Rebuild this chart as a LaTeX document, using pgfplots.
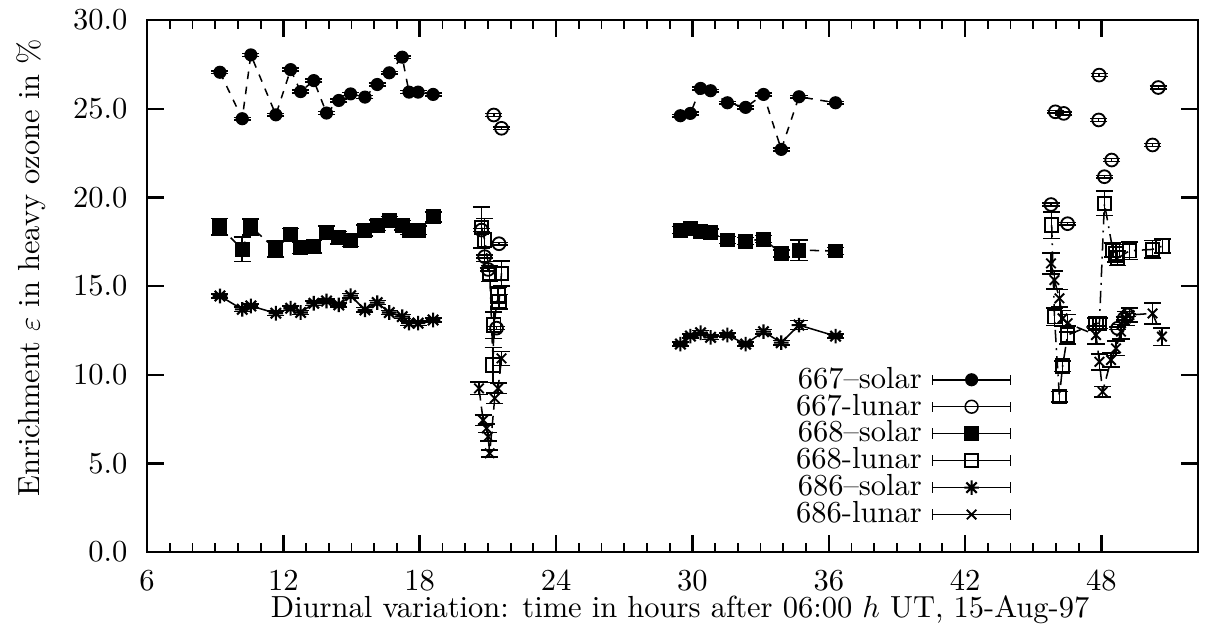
\documentclass[border=0pt]{standalone}
\usepackage{pgfplots}
\pgfplotsset{compat=1.18}
\usepackage{pgfplotstable}

\pgfdeclareplotmark{star8}{%
  \pgfpathmoveto{\pgfqpoint{-\pgfplotmarksize}{0pt}}\pgfpathlineto{\pgfqpoint{\pgfplotmarksize}{0pt}}%
  \pgfpathmoveto{\pgfqpoint{0pt}{-\pgfplotmarksize}}\pgfpathlineto{\pgfqpoint{0pt}{\pgfplotmarksize}}%
  \pgfpathmoveto{\pgfqpoint{-0.707\pgfplotmarksize}{-0.707\pgfplotmarksize}}\pgfpathlineto{\pgfqpoint{0.707\pgfplotmarksize}{0.707\pgfplotmarksize}}%
  \pgfpathmoveto{\pgfqpoint{-0.707\pgfplotmarksize}{0.707\pgfplotmarksize}}\pgfpathlineto{\pgfqpoint{0.707\pgfplotmarksize}{-0.707\pgfplotmarksize}}%
  \pgfusepathqstroke}
\pgfdeclareplotmark{obox}{%
  \pgfpathrectangle{\pgfqpoint{-\pgfplotmarksize}{-\pgfplotmarksize}}{\pgfqpoint{2\pgfplotmarksize}{2\pgfplotmarksize}}%
  \pgfusepathqstroke}

\pgfplotstableread{
x y e
9.21 27.06 0.08
10.19 24.44 0.08
10.57 28.04 0.08
11.67 24.66 0.08
12.32 27.21 0.08
12.76 25.97 0.08
13.34 26.59 0.08
13.90 24.76 0.08
14.44 25.47 0.08
14.96 25.84 0.08
15.59 25.66 0.08
16.13 26.37 0.08
16.66 27.03 0.08
17.23 27.91 0.08
17.53 25.94 0.08
17.93 25.94 0.08
18.59 25.81 0.08
nan nan 0
29.47 24.61 0.08
29.91 24.74 0.08
30.36 26.15 0.08
30.80 26.02 0.08
31.54 25.34 0.08
32.34 25.08 0.08
33.13 25.81 0.08
33.91 22.71 0.08
34.69 25.68 0.08
36.30 25.34 0.08
}\sixsevensolar

\pgfplotstableread{
x y e
20.72 18.16 0.08
20.86 16.66 0.08
21.01 15.94 0.08
21.26 24.65 0.08
21.38 12.63 0.08
21.49 17.39 0.08
21.60 23.90 0.08
45.78 19.60 0.08
45.97 24.83 0.08
46.34 24.74 0.08
46.51 18.52 0.08
47.88 24.37 0.08
47.90 26.90 0.08
48.13 21.17 0.08
48.45 22.11 0.08
48.71 12.62 0.08
49.00 13.18 0.08
49.15 13.37 0.08
50.25 22.96 0.08
50.50 26.20 0.08
}\sixsevenlunar

\pgfplotstableread{
x y e
9.21 18.34 0.47
10.19 17.08 0.70
10.57 18.34 0.45
11.67 17.08 0.45
12.32 17.91 0.35
12.76 17.16 0.32
13.34 17.22 0.36
13.90 18.00 0.38
14.44 17.72 0.36
14.96 17.59 0.36
15.59 18.15 0.31
16.13 18.43 0.30
16.66 18.71 0.22
17.23 18.43 0.26
17.53 18.15 0.25
17.93 18.15 0.25
18.59 18.90 0.28
nan nan 0
29.47 18.16 0.20
29.91 18.26 0.20
30.36 18.07 0.20
30.80 18.01 0.20
31.54 17.60 0.20
32.34 17.54 0.20
33.13 17.65 0.20
33.91 16.85 0.20
34.69 17.03 0.58
36.30 16.98 0.20
}\sixeightsolar

\pgfplotstableread{
x y e
20.72 18.31 1.15
20.86 17.60 1.20
21.08 15.72 0.45
21.23 10.55 1.00
21.26 12.80 0.75
21.45 14.50 0.45
21.49 14.12 0.40
21.60 15.72 0.70
nan nan 0
45.81 18.44 0.75
45.93 13.27 0.50
46.15 8.76 0.30
46.29 10.49 0.30
46.51 12.24 0.50
47.76 12.90 0.30
47.91 12.90 0.30
48.13 19.67 0.70
48.50 17.03 0.40
48.64 16.85 0.50
48.71 16.57 0.40
49.23 16.99 0.50
50.25 17.07 0.50
50.69 17.26 0.40
}\sixeightlunar

\pgfplotstableread{
x y e
9.21 14.44 0.12
10.19 13.69 0.12
10.57 13.88 0.12
11.67 13.47 0.12
12.32 13.75 0.12
12.76 13.51 0.12
13.34 14.03 0.12
13.90 14.16 0.12
14.44 13.94 0.12
14.96 14.46 0.12
15.59 13.66 0.12
16.13 14.07 0.12
16.66 13.51 0.12
17.23 13.28 0.12
17.53 12.91 0.12
17.93 12.91 0.12
18.59 13.09 0.12
nan nan 0
29.47 11.73 0.12
29.91 12.18 0.12
30.36 12.37 0.12
30.80 12.11 0.12
31.54 12.24 0.12
32.34 11.73 0.12
33.13 12.43 0.12
33.91 11.81 0.12
34.69 12.80 0.26
36.30 12.18 0.12
}\eightsixsolar

\pgfplotstableread{
x y e
20.61 9.23 0.35
20.79 7.44 0.30
20.94 6.98 0.25
21.01 6.50 0.25
21.08 5.57 0.20
21.30 8.67 0.30
21.45 9.23 0.30
21.60 10.92 0.40
nan nan 0
45.78 16.28 0.60
45.93 15.34 0.50
46.15 14.31 0.50
46.29 13.18 0.45
46.51 12.90 0.50
47.76 12.24 0.50
47.91 10.73 0.45
48.05 9.04 0.30
48.42 10.83 0.40
48.64 11.49 0.40
48.86 12.43 0.40
49.08 13.18 0.40
49.23 13.37 0.40
50.25 13.46 0.60
50.66 12.15 0.50
}\eightsixlunar

\pgfplotsset{
  errleg/.style={legend image code/.code={
     \draw[solid,line width=0.5pt] (0pt,0pt) -- (25.6pt,0pt) (0pt,-1.7pt) -- (0pt,1.7pt) (25.6pt,-1.7pt) -- (25.6pt,1.7pt);
     \draw[solid,line width=0.5pt,mark repeat=2,mark phase=2] plot coordinates {(0pt,0pt)(12.8pt,0pt)(25.6pt,0pt)};
  }},
  ebars/.style={error bars/.cd, y dir=both, y explicit,
     error bar style={solid,line width=0.5pt},
     error mark options={rotate=90,mark size=2.8pt,line width=0.5pt,solid}},
}

\begin{document}
\begin{tikzpicture}
\path[use as bounding box] (-48.2pt,-23.6pt) rectangle (348.2pt,181pt);
\begin{axis}[
  scale only axis, width=344.6pt, height=174.4pt,
  xmin=6, xmax=52.25, ymin=0, ymax=30,
  xtick={6,12,...,48}, minor x tick num=5,
  ytick={0,5,...,30},
  tick align=inside, major tick length=5.5pt, minor tick length=3pt,
  axis line style={line width=0.8pt},
  major tick style={black,line width=0.8pt},
  minor tick style={black,line width=0.6pt},
  scaled y ticks=false,
  yticklabel style={/pgf/number format/fixed, /pgf/number format/fixed zerofill, /pgf/number format/precision=1, xshift=-2.9pt},
  xticklabel style={yshift=-2.6pt},
  unbounded coords=jump,
  xlabel={Diurnal variation: time in hours after 06:00 $h$ UT, 15-Aug-97},
  xlabel style={at={(axis description cs:0.5,0)}, anchor=base, yshift=-21.3pt, xshift=2.5pt},
  ylabel={Enrichment $\varepsilon$ in heavy ozone in \%},
  ylabel style={at={(axis description cs:-0.110,0.535)}, anchor=center},
  legend plot pos=right, legend cell align=right,
  legend style={draw=none, fill=none, at={(axis description cs:0.823,0.355)}, anchor=north east,
     inner sep=0pt, row sep=-1.6pt, column sep=2.3pt, nodes={inner sep=1pt}},
]
\addplot[black, line width=0.5pt, dash pattern=on 2.5pt off 2.5pt, mark=*, mark size=1.9pt, mark options={solid}, errleg, ebars]
  table[x=x,y=y,y error=e] {\sixsevensolar};
\addlegendentry{667--solar}
\addplot[black, line width=0.6pt, only marks, mark=o, mark size=2.1pt, mark options={solid}, errleg, ebars]
  table[x=x,y=y,y error=e] {\sixsevenlunar};
\addlegendentry{667-lunar}
\addplot[black, line width=0.5pt, dash pattern=on 3pt off 2pt, mark=square*, mark size=2.2pt, mark options={solid}, errleg, ebars]
  table[x=x,y=y,y error=e] {\sixeightsolar};
\addlegendentry{668--solar}
\addplot[black, line width=0.5pt, dash pattern=on 4pt off 2pt on 0.6pt off 2pt, mark=obox, mark size=2.2pt, mark options={solid,line width=0.6pt,fill=none}, errleg, ebars]
  table[x=x,y=y,y error=e] {\sixeightlunar};
\addlegendentry{668-lunar}
\addplot[black, line width=0.5pt, solid, mark=star8, mark size=2.4pt, mark options={solid,line width=0.7pt}, errleg, ebars]
  table[x=x,y=y,y error=e] {\eightsixsolar};
\addlegendentry{686--solar}
\addplot[black, line width=0.5pt, dash pattern=on 4pt off 2pt, mark=x, mark size=2.2pt, mark options={solid,line width=0.6pt}, errleg, ebars]
  table[x=x,y=y,y error=e] {\eightsixlunar};
\addlegendentry{686-lunar}
\end{axis}
\end{tikzpicture}
\end{document}
